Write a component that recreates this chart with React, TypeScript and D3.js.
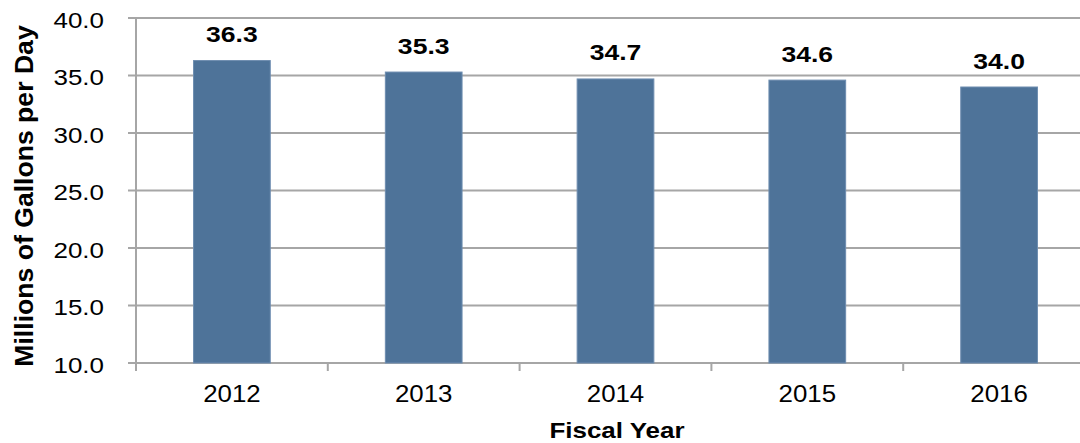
import React from "react";
import * as d3 from "d3";

const years = ["2012", "2013", "2014", "2015", "2016"];
const values = [36.3, 35.3, 34.7, 34.6, 34.0];
const yTicks = [10, 15, 20, 25, 30, 35, 40];
const yTitle = "Millions of Gallons per Day";
const xTitle = "Fiscal Year";

const W = 1080;
const H = 443;
const left = 136;
const right = 1095;
const top = 18;
const bottom = 363;
const FONT = "'Liberation Sans', Arial, sans-serif";
const SX = 1.18;

export default function App() {
  const x = d3.scaleBand<string>().domain(years).range([left, right]).paddingInner(0.6).paddingOuter(0.3);
  const band = d3.scaleBand<string>().domain(years).range([left, right]);
  const y = d3.scaleLinear().domain([10, 40]).range([bottom, top]);
  const grid = "#A6A6A6";
  const bounds = years.map((yr) => band(yr)!).concat([right]);

  return (
    <svg width={W} height={H} style={{ position: "absolute", left: 0, top: 0, display: "block", background: "#fff" }}>
      {yTicks.map((t) => (
        <g key={t}>
          <line x1={left - 8} x2={W} y1={y(t)} y2={y(t)} stroke={grid} strokeWidth={2} />
          <text
            transform={`translate(104,${y(t) + 9.5}) scale(${SX},1)`}
            textAnchor="end"
            fontFamily={FONT}
            fontSize={22}
            fill="#000"
          >
            {t.toFixed(1)}
          </text>
        </g>
      ))}
      <line x1={left} x2={left} y1={top - 1} y2={bottom + 8} stroke={grid} strokeWidth={2} />
      {bounds.map((b, i) => (
        <line key={i} x1={b} x2={b} y1={bottom} y2={bottom + 8} stroke={grid} strokeWidth={2} />
      ))}
      {years.map((yr, i) => (
        <g key={yr}>
          <rect
            x={x(yr)}
            y={y(values[i])}
            width={x.bandwidth()}
            height={bottom - y(values[i])}
            fill="#4E7399"
            stroke="#6E8DB0"
            strokeWidth={1}
          />
          <text
            transform={`translate(${x(yr)! + x.bandwidth() / 2},${y(values[i]) - 18.5}) scale(${SX},1)`}
            textAnchor="middle"
            fontFamily={FONT}
            fontWeight="bold"
            fontSize={22.5}
            fill="#000"
          >
            {values[i].toFixed(1)}
          </text>
          <text
            transform={`translate(${x(yr)! + x.bandwidth() / 2},401.5) scale(1.1,1)`}
            textAnchor="middle"
            fontFamily={FONT}
            fontSize={23.5}
            fill="#000"
          >
            {yr}
          </text>
        </g>
      ))}
      <text
        transform={`translate(617,438) scale(${SX},1)`}
        textAnchor="middle"
        fontFamily={FONT}
        fontWeight="bold"
        fontSize={22}
        fill="#000"
      >
        {xTitle}
      </text>
      <text
        transform={`translate(32.5,196) rotate(-90)`}
        textAnchor="middle"
        fontFamily={FONT}
        fontWeight="bold"
        fontSize={26.6}
        fill="#000"
      >
        {yTitle}
      </text>
    </svg>
  );
}
